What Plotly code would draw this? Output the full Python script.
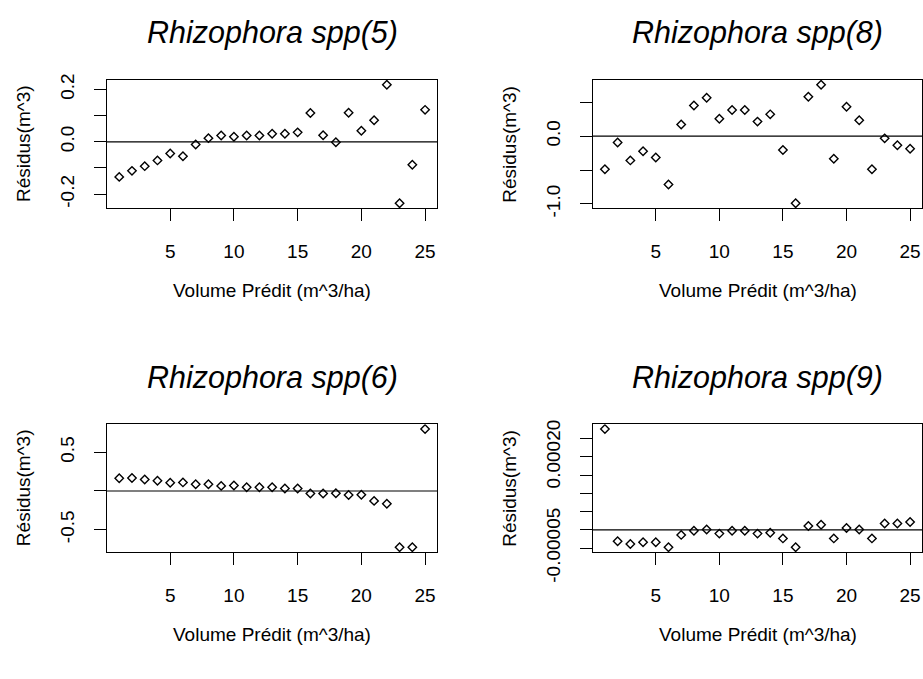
import plotly.graph_objects as go

# Predicted volume index (x) shared by all four panels
x_pred = list(range(1, 26))

# Residuals (m^3) for each model
res_5 = [-0.134, -0.111, -0.093, -0.071, -0.045, -0.055, -0.010, 0.014, 0.024, 0.019,
         0.024, 0.024, 0.031, 0.031, 0.036, 0.110, 0.025, -0.002, 0.111, 0.042,
         0.082, 0.218, -0.235, -0.088, 0.122]
res_8 = [-0.488, -0.093, -0.358, -0.223, -0.316, -0.712, 0.172, 0.451, 0.567, 0.256,
         0.386, 0.386, 0.214, 0.321, -0.205, -0.991, 0.581, 0.758, -0.335, 0.433,
         0.233, -0.488, -0.033, -0.135, -0.186]
res_6 = [0.165, 0.167, 0.148, 0.132, 0.107, 0.111, 0.086, 0.086, 0.066, 0.070,
         0.049, 0.049, 0.049, 0.033, 0.033, -0.033, -0.033, -0.029, -0.053, -0.049,
         -0.128, -0.165, -0.728, -0.728, 0.802]
res_9 = [0.0002765, -0.0000313, -0.0000391, -0.0000339, -0.0000339, -0.0000478,
         -0.0000139, -0.0000026, 0.0000009, -0.0000104, -0.0000026, -0.0000026,
         -0.0000104, -0.0000078, -0.0000235, -0.0000478, 0.0000104, 0.0000139,
         -0.0000235, 0.0000052, 0.0000009, -0.0000235, 0.0000174, 0.0000174,
         0.0000217]

titles = ["Rhizophora spp(5)", "Rhizophora spp(8)", "Rhizophora spp(6)", "Rhizophora spp(9)"]
x_title = "Volume Prédit (m^3/ha)"
y_title = "Résidus(m^3)"

x_ticks = [5, 10, 15, 20, 25]
x_tick_text = ["5", "10", "15", "20", "25"]

y_ticks_5 = [-0.2, -0.1, 0.0, 0.1, 0.2]
y_text_5 = ["-0.2", "", "0.0", "", "0.2"]
y_ticks_8 = [-1.0, -0.5, 0.0, 0.5]
y_text_8 = ["-1.0", "", "0.0", ""]
y_ticks_6 = [-0.5, 0.0, 0.5]
y_text_6 = ["-0.5", "", "0.5"]
y_ticks_9 = [-0.00005, 0.0, 0.00005, 0.0001, 0.00015, 0.0002, 0.00025]
y_text_9 = ["-0.00005", "", "", "", "", "0.00020", ""]

W, H = 923, 679
FONT = "Liberation Sans, Arial, Helvetica, sans-serif"
AX_SIZE = 19


def px_x(p):
    return p / W


def px_y(p):
    return 1 - p / H


def r_range(vals):
    # base-R style axis extension: 4% on each side of the data range
    lo, hi = min(vals), max(vals)
    pad = 0.04 * (hi - lo)
    return [lo - pad, hi + pad]


# panel boxes in pixels: (left, right, top, bottom)
boxes = [
    (107.0, 437.3, 77.3, 213.0),
    (592.7, 922.3, 77.3, 213.0),
    (107.0, 437.3, 442.0, 577.3),
    (592.7, 922.3, 442.0, 577.3),
]
series = [res_5, res_8, res_6, res_9]
yticks = [(y_ticks_5, y_text_5), (y_ticks_8, y_text_8), (y_ticks_6, y_text_6), (y_ticks_9, y_text_9)]

fig = go.Figure()
annotations = []
shapes = []
axis_common = dict(
    showline=True, mirror=True, linecolor="black", linewidth=1,
    ticks="outside", ticklen=12, tickwidth=1, tickcolor="black",
    showgrid=False, zeroline=False,
    tickfont=dict(family=FONT, size=AX_SIZE, color="black"),
)

for i, (vals, (l, r, t, b)) in enumerate(zip(series, boxes)):
    n = "" if i == 0 else str(i + 1)
    fig.add_trace(go.Scatter(
        x=x_pred, y=vals, mode="markers",
        xaxis="x" + n, yaxis="y" + n,
        marker=dict(symbol="diamond-open", size=6.5, color="black",
                    line=dict(color="black", width=1.4)),
        showlegend=False, hoverinfo="x+y",
    ))
    tv, tt = yticks[i]
    fig.layout["xaxis" + n] = dict(
        axis_common, domain=[px_x(l), px_x(r)], anchor="y" + n,
        range=r_range(x_pred), tickvals=x_ticks, ticktext=x_tick_text,
        ticklabelstandoff=14,
    )
    fig.layout["yaxis" + n] = dict(
        axis_common, domain=[px_y(b), px_y(t)], anchor="x" + n,
        range=r_range(vals), tickvals=tv, ticktext=tt, tickangle=-90,
        ticklabelstandoff=12,
    )
    # horizontal reference at zero residual
    shapes.append(dict(type="line", xref="x" + n + " domain", yref="y" + n,
                       x0=0, x1=1, y0=0, y1=0, line=dict(color="black", width=1.2)))
    cx = (l + r) / 2
    cy = (t + b) / 2
    annotations.append(dict(
        text="<i>" + titles[i] + "</i>", xref="paper", yref="paper",
        x=px_x(cx), y=px_y(t - 50), xanchor="center", yanchor="middle",
        showarrow=False, font=dict(family=FONT, size=30.5, color="black"),
    ))
    annotations.append(dict(
        text=x_title, xref="paper", yref="paper",
        x=px_x(cx), y=px_y(b + 87), xanchor="center", yanchor="middle",
        showarrow=False, font=dict(family=FONT, size=AX_SIZE, color="black"),
    ))
    annotations.append(dict(
        text=y_title, xref="paper", yref="paper",
        x=px_x(l - 84), y=px_y(cy), xanchor="center", yanchor="middle",
        textangle=-90, showarrow=False,
        font=dict(family=FONT, size=AX_SIZE, color="black"),
    ))

fig.update_layout(
    width=W, height=H,
    margin=dict(l=0, r=0, t=0, b=0),
    paper_bgcolor="white", plot_bgcolor="white",
    annotations=annotations, shapes=shapes,
)

fig.write_html("out.html")
